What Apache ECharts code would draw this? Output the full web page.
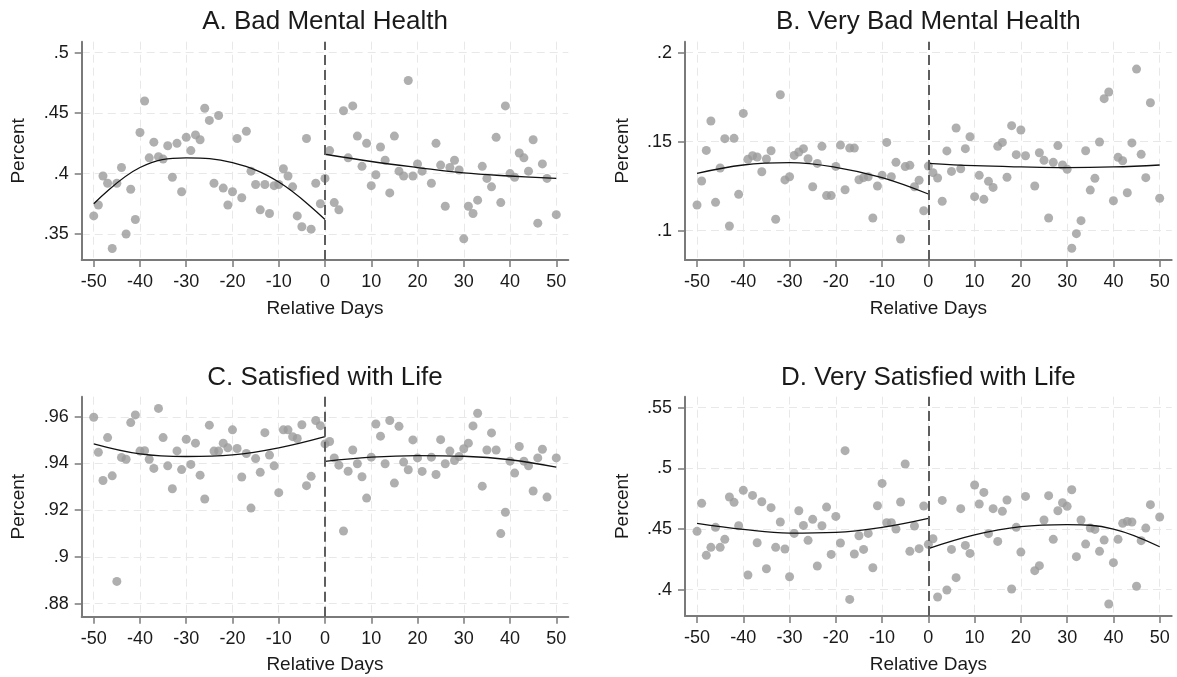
<!DOCTYPE html>
<html>
<head>
<meta charset="utf-8">
<script src="https://cdn.jsdelivr.net/npm/echarts@6/dist/echarts.min.js"></script>
<style>
html,body{margin:0;padding:0;background:#fff;}
#chart{width:1177px;height:677px;}
</style>
</head>
<body>
<div id="chart"></div>
<script>
// ---- data ----
const xTicks = [-50, -40, -30, -20, -10, 0, 10, 20, 30, 40, 50];
const fitDaysLeft = [-50, -40, -30, -20, -10, 0];
const fitDaysRight = [0, 10, 20, 30, 40, 50];

const titles = ['A. Bad Mental Health', 'B. Very Bad Mental Health', 'C. Satisfied with Life', 'D. Very Satisfied with Life'];

const yTicksA = [0.35, 0.4, 0.45, 0.5];
const yTicksB = [0.1, 0.15, 0.2];
const yTicksC = [0.88, 0.9, 0.92, 0.94, 0.96];
const yTicksD = [0.4, 0.45, 0.5, 0.55];

// values for days -50 .. 50 (null = no point)
const badMH = [
 .365,.374,.398,.392,.338,.392,.405,.350,.387,.362,
 .434,.460,.413,.426,.414,.412,.423,.397,.425,.385,
 .430,.419,.432,.428,.454,.444,.392,.448,.388,.374,
 .385,.429,.380,.435,.402,.391,.370,.391,.367,.390,
 .391,.404,.398,.389,.365,.356,.429,.354,.392,.375,
 .396,
 .419,.376,.370,.452,.413,.456,.431,.406,.425,.390,
 .399,.422,.411,.384,.431,.402,.398,.477,.398,.408,
 .402,null,.392,.425,.407,.373,.405,.411,.403,.346,
 .373,.367,.378,.406,.396,.389,.430,.376,.456,.400,
 .397,.417,.413,.402,.428,.359,.408,.396,null,.366
];
const veryBadMH = [
 .1144,.1279,.1451,.1616,.1159,.1352,.1517,.1026,.1519,.1204,
 .1659,.1401,.1421,.1414,.1331,.1403,.1449,.1064,.1764,.1285,
 .1303,.1423,.1442,.1461,.1404,.1247,.1378,.1474,.1197,.1197,
 .1361,.1481,.1230,.1464,.1464,.1286,.1298,.1303,.1071,.1251,
 .1311,.1496,.1303,.1384,.0953,.1360,.1367,.1247,.1283,.1112,
 .1363,
 .1326,.1296,.1165,.1448,.1333,.1577,.1348,.1461,.1528,.1191,
 .1311,.1176,.1277,.1243,.1474,.1496,.1300,.1590,.1427,.1566,
 .1421,null,.1251,.1438,.1395,.1071,.1384,.1478,.1369,.1345,
 .0901,.0983,.1056,.1449,.1228,.1294,.1498,.1742,.1779,.1168,
 .1412,.1393,.1213,.1493,.1908,.1429,.1298,.1719,null,.1182
];
const satisfied = [
 .9598,.9448,.9327,.9511,.9347,.8895,.9426,.9418,.9575,.9608,
 .9453,.9455,.9418,.9379,.9636,.9511,.9390,.9292,.9454,.9374,
 .9504,.9396,.9487,.9350,.9248,.9564,.9453,.9453,.9487,.9467,
 .9544,.9464,.9342,.9443,.9209,.9421,.9362,.9532,.9436,.9390,
 .9275,.9544,.9544,.9515,.9507,.9566,.9305,.9345,.9584,.9562,
 .9484,
 .9494,.9424,.9393,.9111,.9367,.9458,.9399,.9343,.9252,.9427,
 .9569,.9517,.9399,.9584,.9316,.9559,.9406,.9373,.9501,.9424,
 .9366,null,.9427,.9353,.9502,.9399,.9453,.9413,.9430,.9463,
 .9487,.9561,.9615,.9303,.9458,.9531,.9458,.9100,.9191,.9410,
 .9359,.9473,.9410,.9390,.9282,.9424,.9461,.9256,null,.9424
];
const verySatisfied = [
 .4481,.4712,.4283,.4349,.4514,.4349,.4415,.4764,.4720,.4527,
 .4819,.4121,.4777,.4387,.4725,.4173,.4676,.4349,.4558,.4335,
 .4107,.4464,.4651,.4530,.4407,.4580,.4195,.4527,.4681,.4291,
 .4604,.4385,.5146,.3920,.4294,.4445,.4332,.4464,.4181,.4692,
 .4876,.4552,.4552,.4500,.4723,.5036,.4316,.4525,.4338,.4690,
 .4374,
 .4420,.3940,.4736,.3997,.4332,.4099,.4668,.4365,.4299,.4863,
 .4706,.4802,.4462,.4668,.4398,.4646,.4739,.4006,.4514,.4310,
 .4769,null,.4157,.4198,.4574,.4775,.4415,.4651,.4717,.4687,
 .4824,.4272,.4574,.4376,.4508,.4497,.4316,.4409,.3882,.4223,
 .4415,.4547,.4563,.4558,.4028,.4404,.4508,.4701,null,.4599
];

// fitted lines
const fitA_left  = [.375, .405, .413, .409, .393, .362];
const fitA_right = [.416, .410, .405, .4005, .398, .396];
const fitB_left  = [.1322, .1369, .1382, .1356, .1298, .1206];
const fitB_right = [.1378, .1365, .1358, .1354, .1358, .1369];
const fitC_left  = [.9484, .9441, .9430, .9437, .9467, .9515];
const fitC_right = [.9409, .9427, .9434, .9431, .9416, .9384];
const fitD_left  = [.4547, .4497, .4467, .4473, .4514, .4588];
const fitD_right = [.4338, .4451, .4519, .4536, .4500, .4354];

// ---- build ----
const FONT = '"Liberation Sans", Arial, sans-serif';
const TXT = '#1a1a1a';
const AXIS = '#7a7a7a';

const panels = [
  {vals: badMH, fitL: fitA_left, fitR: fitA_right, ticks: yTicksA, min: 0.3285, max: 0.5091,
   grid: {left: 81.7, top: 41.7, width: 486.6, height: 218.3}, titleY: 21.5},
  {vals: veryBadMH, fitL: fitB_left, fitR: fitB_right, ticks: yTicksB, min: 0.0835, max: 0.2062,
   grid: {left: 685, top: 41.7, width: 486.7, height: 218.3}, titleY: 21.5},
  {vals: satisfied, fitL: fitC_left, fitR: fitC_right, ticks: yTicksC, min: 0.8744, max: 0.9686,
   grid: {left: 81.7, top: 396.7, width: 486.6, height: 220}, titleY: 378},
  {vals: verySatisfied, fitL: fitD_left, fitR: fitD_right, ticks: yTicksD, min: 0.3783, max: 0.5591,
   grid: {left: 685, top: 396.7, width: 486.7, height: 219.3}, titleY: 378}
];

const startDay = -50;
function toPoints(vals) {
  const out = [];
  vals.forEach((v, i) => { if (v != null) out.push([startDay + i, v]); });
  return out;
}
function pairs(xs, ys) { return xs.map((x, i) => [x, ys[i]]); }
function fmt(v) { return String(+(+v).toFixed(3)).replace(/^0\./, '.'); }

const grids = [], xAxes = [], yAxes = [], series = [], graphics = [];
panels.forEach((p, k) => {
  grids.push(Object.assign({containLabel: false}, p.grid));
  xAxes.push({
    type: 'value', gridIndex: k, min: -52.6, max: 52.6,
    name: 'Relative Days', nameLocation: 'middle', nameGap: 39,
    nameTextStyle: {fontFamily: FONT, fontSize: 19, color: TXT},
    axisLine: {show: true, onZero: false, lineStyle: {color: AXIS, width: 2}},
    axisTick: {show: true, length: 7, customValues: xTicks, lineStyle: {color: AXIS, width: 1.5}},
    axisLabel: {customValues: xTicks, margin: 13, fontFamily: FONT, fontSize: 18, color: TXT},
    splitLine: {show: true, lineStyle: {color: '#e8e8e8', width: 1, type: [8, 5]}}
  });
  yAxes.push({
    type: 'value', gridIndex: k, min: p.min, max: p.max,
    name: 'Percent', nameLocation: 'middle', nameGap: 53,
    nameTextStyle: {fontFamily: FONT, fontSize: 19, color: TXT},
    axisLine: {show: true, onZero: false, lineStyle: {color: AXIS, width: 2}},
    axisTick: {show: true, length: 7, customValues: p.ticks, lineStyle: {color: AXIS, width: 1.5}},
    axisLabel: {customValues: p.ticks, margin: 13, fontFamily: FONT, fontSize: 18, color: TXT, formatter: fmt},
    splitLine: {show: true, lineStyle: {color: '#e8e8e8', width: 1, type: [8, 5]}}
  });
  series.push({
    type: 'scatter', xAxisIndex: k, yAxisIndex: k, data: toPoints(p.vals),
    symbol: 'circle', symbolSize: 9, itemStyle: {color: '#9b9b9b'}, z: 2,
    markLine: {
      silent: true, symbol: ['none', 'none'], label: {show: false},
      lineStyle: {color: '#5e5e5e', width: 2, type: [10, 5]},
      data: [{xAxis: 0}], animation: false
    }
  });
  series.push({
    type: 'line', xAxisIndex: k, yAxisIndex: k, data: pairs(fitDaysLeft, p.fitL),
    smooth: 0.4, symbol: 'none', lineStyle: {color: '#111', width: 1.3}, z: 3
  });
  series.push({
    type: 'line', xAxisIndex: k, yAxisIndex: k, data: pairs(fitDaysRight, p.fitR),
    smooth: 0.4, symbol: 'none', lineStyle: {color: '#111', width: 1.3}, z: 3
  });
  graphics.push({
    type: 'text', x: p.grid.left + p.grid.width / 2, y: p.titleY,
    style: {text: titles[k], fill: TXT, font: '26px ' + FONT, textAlign: 'center', textVerticalAlign: 'middle'}
  });
});

const chart = echarts.init(document.getElementById('chart'), null, {renderer: 'canvas'});
chart.setOption({
  animation: false,
  backgroundColor: '#fff',
  grid: grids, xAxis: xAxes, yAxis: yAxes, series: series,
  graphic: graphics
});
</script>
</body>
</html>
